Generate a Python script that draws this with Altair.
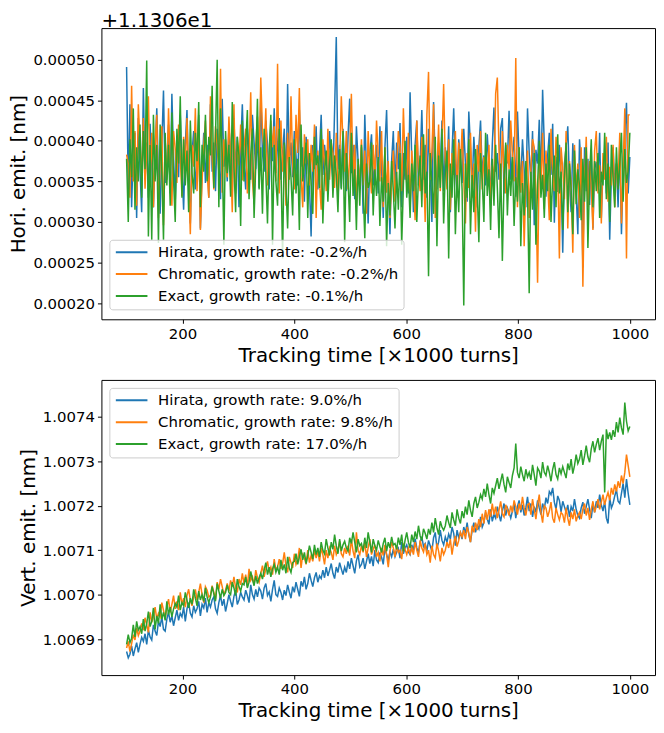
import altair as alt
import pandas as pd

# tracking time grid [x1000 turns]
times = list(range(100, 1001, 3))

colors = ["#1f77b4", "#ff7f0e", "#2ca02c"]
hori_labels = ["Hirata, growth rate: -0.2%/h",
               "Chromatic, growth rate: -0.2%/h",
               "Exact, growth rate: -0.1%/h"]
vert_labels = ["Hirata, growth rate: 9.0%/h",
               "Chromatic, growth rate: 9.8%/h",
               "Exact, growth rate: 17.0%/h"]

# horizontal emittance above 11.306 nm, in units of 1e-6 nm (one row = 30 kturns)
hori_hirata = [
    491, 340, 445, 318, 392, 410, 305, 428, 365, 312,
    465, 352, 398, 330, 421, 372, 318, 382, 440, 355,
    310, 395, 462, 348, 372, 420, 335, 458, 380, 325,
    402, 355, 432, 368, 315, 395, 438, 350, 298, 385,
    412, 340, 375, 432, 292, 365, 410, 348, 395, 330,
    445, 362, 398, 338, 415, 375, 328, 452, 368, 402,
    350, 418, 385, 335, 428, 362, 405, 318, 392, 445,
    372, 340, 415, 388, 352, 432, 398, 365, 410, 342,
    458, 385, 362, 425, 395, 340, 412, 375, 440, 360,
    395, 428, 352, 385, 415, 338, 470, 372, 398, 355,
    412, 382, 345, 438, 368, 392, 325, 405, 372, 348,
    282, 395, 365, 418, 340, 385, 432, 358, 395, 372,
    345, 412, 378, 352, 438, 528, 365, 395, 342, 415,
    372, 338, 405, 452, 360, 395, 328, 418, 375, 345,
    392, 310, 432, 362, 298, 385, 408, 345, 372, 395,
    335, 418, 365, 305, 392, 438, 350, 285, 375, 412,
    342, 398, 365, 422, 318, 385, 352, 405, 335, 460,
    378, 312, 395, 425, 345, 372, 438, 352, 395, 330,
    415, 365, 300, 448, 372, 340, 398, 362, 425, 338,
    392, 355, 418, 312, 385, 440, 365, 335, 402, 378,
    348, 415, 372, 325, 436, 392, 340, 405, 368, 318,
    392, 425, 358, 382, 345, 408, 372, 330, 395, 441,
    362, 385, 352, 415, 428, 335, 395, 372, 437, 352,
    381, 405, 331, 436, 378, 350, 402, 365, 318, 440,
    385, 350, 412, 296, 389, 372, 426, 345, 463, 395,
    331, 382, 410, 358, 421, 299, 380, 337, 395, 360,
    262, 372, 392, 418, 350, 312, 397, 365, 336, 285,
    402, 366, 244, 392, 338, 378, 321, 388, 292, 365,
    374, 349, 410, 305, 365, 382, 335, 398, 278, 360,
    392, 345, 372, 318, 398, 285, 365, 410, 447, 335,
    380,
]
hori_chromatic = [
    383, 372, 330, 468, 350, 412, 320, 445, 395, 355,
    428, 341, 390, 455, 352, 410, 318, 395, 432, 305,
    375, 418, 296, 388, 352, 440, 368, 320, 412, 390,
    348, 420, 380, 332, 405, 365, 428, 352, 285, 395,
    368, 440, 338, 412, 290, 350, 395, 425, 362, 330,
    455, 381, 340, 418, 395, 362, 489, 336, 402, 372,
    355, 430, 382, 312, 445, 335, 398, 370, 420, 351,
    392, 415, 335, 378, 460, 352, 322, 395, 430, 372,
    478, 412, 388, 440, 345, 368, 425, 392, 418, 350,
    495, 335, 425, 362, 395, 320, 410, 352, 455, 372,
    340, 432, 385, 465, 355, 318, 408, 372, 402, 345,
    395, 362, 420, 305, 388, 350, 315, 402, 372, 338,
    415, 352, 398, 385, 342, 410, 330, 372, 455, 395,
    362, 412, 340, 380, 458, 352, 395, 320, 370, 348,
    402, 345, 388, 310, 412, 362, 335, 395, 348, 425,
    382, 350, 412, 318, 392, 336, 375, 305, 348, 388,
    325, 365, 412, 392, 338, 440, 375, 348, 410, 316,
    388, 352, 302, 425, 362, 338, 405, 372, 300, 432,
    485, 352, 388, 445, 305, 362, 420, 338, 395, 470,
    372, 340, 402, 315, 385, 358, 412, 330, 398, 365,
    415, 352, 298, 385, 342, 410, 330, 372, 288, 395,
    362, 412, 340, 380, 372, 352, 395, 320, 370, 348,
    458, 478, 388, 340, 412, 362, 335, 395, 365, 425,
    382, 350, 502, 318, 392, 336, 375, 270, 348, 388,
    305, 365, 402, 392, 338, 225, 375, 348, 410, 316,
    388, 352, 302, 415, 362, 338, 405, 372, 255, 392,
    365, 328, 412, 292, 375, 348, 262, 395, 338, 372,
    305, 392, 220, 348, 405, 318, 375, 342, 290, 388,
    412, 335, 370, 298, 385, 352, 405, 325, 368, 345,
    395, 318, 372, 345, 410, 298, 365, 440, 255, 432,
    432,
]
hori_exact = [
    378, 300, 402, 355, 440, 315, 392, 350, 420, 330,
    412, 365, 499, 282, 395, 278, 432, 350, 395, 274,
    420, 362, 278, 410, 345, 395, 320, 435, 352, 300,
    415, 372, 455, 330, 402, 345, 388, 312, 425, 360,
    335, 410, 375, 448, 318, 395, 362, 432, 350, 405,
    382, 468, 342, 405, 500, 318, 440, 385, 272, 412,
    360, 395, 331, 448, 370, 312, 405, 382, 295, 425,
    350, 395, 438, 328, 382, 415, 305, 370, 452, 340,
    392, 310, 415, 360, 298, 388, 432, 272, 395, 350,
    320, 415, 372, 255, 398, 345, 292, 380, 355, 308,
    402, 335, 378, 290, 420, 350, 372, 398, 305, 385,
    348, 310, 405, 370, 382, 342, 415, 298, 362, 388,
    325, 372, 402, 330, 382, 358, 312, 390, 340, 412,
    275, 385, 352, 300, 410, 332, 365, 290, 378, 320,
    395, 342, 280, 372, 342, 350, 398, 308, 365, 332,
    380, 295, 355, 325, 392, 270, 348, 308, 375, 338,
    292, 362, 315, 385, 272, 345, 400, 330, 358, 305,
    372, 338, 395, 300, 355, 382, 318, 408, 335, 362,
    233, 385, 348, 310, 405, 270, 382, 342, 415, 298,
    362, 388, 255, 372, 330, 402, 285, 358, 312, 390,
    340, 197, 372, 330, 402, 285, 358, 312, 390, 340,
    275, 385, 352, 300, 410, 332, 365, 290, 378, 320,
    395, 342, 280, 372, 252, 350, 398, 308, 365, 332,
    380, 295, 355, 325, 392, 270, 348, 308, 375, 338,
    212, 362, 315, 385, 272, 345, 400, 330, 358, 305,
    372, 338, 395, 300, 355, 382, 318, 408, 335, 362,
    290, 352, 398, 312, 372, 340, 285, 388, 322, 365,
    345, 302, 378, 325, 392, 268, 355, 402, 318, 375,
    338, 385, 305, 362, 345, 410, 328, 372, 300, 395,
    355, 318, 392, 340, 372, 410, 325, 390, 348, 362,
    410,
]

# vertical emittance above 1.0068 nm, in units of 1e-6 nm (one row = 30 kturns)
vert_hirata = [
    72, 58, 66, 85, 62, 78, 92, 70, 88, 104,
    95, 112, 88, 120, 105, 98, 132, 118, 108, 140,
    128, 150, 122, 118, 145, 160, 138, 152, 130, 148,
    165, 142, 158, 150, 172, 140, 168, 182, 158, 150,
    175, 160, 168, 185, 152, 178, 170, 192, 160, 182,
    172, 188, 195, 168, 158, 182, 198, 175, 190, 162,
    180, 200, 185, 172, 196, 210, 178, 188, 205, 195,
    188, 210, 198, 182, 222, 200, 190, 212, 195, 215,
    208, 190, 215, 225, 198, 206, 185, 212, 232, 200,
    196, 215, 205, 188, 210, 198, 222, 206, 192, 218,
    205, 228, 212, 196, 230, 218, 240, 212, 225, 248,
    232, 218, 238, 250, 228, 242, 236, 255, 238, 262,
    242, 255, 270, 248, 236, 262, 250, 272, 258, 245,
    262, 250, 275, 258, 282, 265, 248, 276, 290, 262,
    268, 282, 258, 275, 292, 270, 286, 264, 300, 278,
    272, 295, 284, 268, 306, 290, 278, 296, 285, 302,
    285, 296, 304, 282, 318, 292, 305, 312, 296, 290,
    312, 300, 326, 305, 295, 318, 330, 308, 315, 298,
    322, 310, 298, 328, 340, 305, 318, 345, 322, 312,
    330, 318, 336, 325, 352, 338, 310, 345, 328, 340,
    325, 352, 338, 362, 335, 318, 345, 362, 340, 356,
    348, 375, 352, 362, 385, 370, 358, 392, 365, 380,
    372, 398, 380, 365, 388, 405, 378, 395, 385, 372,
    388, 405, 372, 398, 412, 385, 402, 378, 395, 420,
    388, 405, 375, 398, 385, 412, 395, 380, 405, 392,
    418, 405, 432, 425, 440, 408, 392, 422, 412, 386,
    410, 398, 385, 402, 375, 398, 388, 415, 392, 378,
    372, 395, 408, 382, 398, 415, 392, 372, 405, 385,
    410, 395, 425, 402, 388, 410, 372, 360, 418, 395,
    405, 422, 436, 410, 405, 428, 450, 418, 460, 428,
    402,
]
vert_chromatic = [
    80, 95, 72, 90, 110, 98, 125, 108, 118, 135,
    120, 148, 132, 115, 160, 138, 150, 172, 145, 158,
    150, 182, 165, 145, 172, 190, 160, 178, 198, 168,
    185, 165, 205, 178, 192, 172, 198, 212, 188, 175,
    195, 212, 188, 205, 225, 200, 182, 218, 210, 195,
    198, 220, 205, 190, 228, 212, 235, 218, 200, 210,
    225, 208, 232, 218, 240, 215, 205, 235, 222, 248,
    225, 245, 218, 258, 232, 240, 222, 255, 238, 228,
    248, 265, 240, 258, 275, 252, 262, 245, 280, 255,
    262, 280, 258, 270, 295, 265, 250, 285, 272, 260,
    292, 268, 278, 305, 260, 290, 282, 268, 300, 272,
    288, 275, 300, 282, 298, 275, 305, 290, 268, 300,
    282, 305, 295, 278, 310, 290, 300, 320, 292, 285,
    305, 292, 310, 288, 325, 298, 282, 340, 300, 290,
    310, 295, 318, 285, 305, 325, 290, 302, 312, 285,
    295, 275, 305, 288, 312, 290, 262, 298, 318, 305,
    285, 310, 295, 300, 280, 315, 302, 290, 305, 292,
    305, 290, 318, 300, 285, 322, 305, 296, 315, 290,
    300, 272, 310, 290, 282, 315, 298, 275, 305, 290,
    300, 318, 305, 325, 290, 315, 332, 308, 322, 340,
    330, 345, 325, 352, 338, 318, 355, 340, 362, 345,
    370, 352, 382, 360, 390, 368, 392, 375, 405, 380,
    398, 372, 390, 410, 382, 375, 402, 392, 378, 400,
    385, 412, 398, 380, 405, 390, 420, 395, 378, 402,
    405, 380, 415, 392, 370, 402, 425, 385, 362, 400,
    395, 375, 388, 408, 372, 362, 395, 380, 368, 385,
    380, 362, 395, 372, 355, 385, 370, 392, 365, 378,
    385, 370, 392, 405, 378, 395, 368, 392, 410, 385,
    398, 415, 392, 408, 425, 402, 418, 430, 412, 440,
    425, 448, 432, 455, 440, 468, 450, 475, 515, 490,
    465,
]
vert_exact = [
    88, 110, 92, 102, 132, 105, 140, 120, 128, 112,
    145, 118, 135, 162, 128, 140, 170, 122, 152, 135,
    178, 145, 160, 142, 185, 155, 172, 150, 168, 180,
    172, 198, 165, 182, 175, 205, 188, 170, 192, 178,
    212, 192, 175, 208, 188, 200, 185, 215, 195, 182,
    195, 218, 202, 185, 225, 208, 192, 212, 198, 205,
    222, 205, 200, 228, 215, 198, 235, 218, 208, 225,
    222, 240, 215, 228, 252, 235, 220, 242, 225, 238,
    248, 235, 255, 272, 245, 262, 240, 258, 268, 250,
    262, 245, 278, 255, 268, 248, 285, 260, 250, 272,
    275, 292, 268, 285, 302, 278, 295, 270, 288, 310,
    295, 280, 312, 290, 305, 285, 318, 300, 292, 325,
    305, 288, 318, 302, 335, 310, 292, 325, 298, 312,
    320, 305, 298, 328, 315, 340, 318, 295, 325, 310,
    315, 298, 328, 305, 340, 318, 295, 325, 310, 300,
    322, 308, 295, 315, 328, 298, 318, 305, 330, 312,
    315, 302, 328, 312, 335, 298, 322, 340, 318, 305,
    335, 318, 342, 325, 355, 332, 322, 348, 338, 325,
    348, 335, 362, 340, 372, 350, 335, 365, 352, 345,
    355, 378, 362, 350, 385, 368, 355, 392, 372, 360,
    388, 372, 398, 380, 412, 390, 375, 405, 420, 395,
    408, 425, 415, 438, 420, 450, 425, 405, 440, 428,
    445, 462, 438, 455, 472, 448, 430, 465, 452, 440,
    468, 485, 540, 475, 462, 488, 470, 455, 482, 465,
    475, 458, 492, 470, 445, 485, 478, 462, 498, 475,
    468, 490, 475, 455, 482, 498, 470, 460, 485, 472,
    488, 475, 462, 495, 480, 505, 472, 490, 515, 495,
    505, 525, 492, 512, 535, 510, 498, 528, 545, 520,
    538, 552, 525, 545, 560, 430, 572, 550, 565, 548,
    570, 555, 588, 565, 598, 575, 560, 632, 590, 568,
    578,
]

FONT = "DejaVu Sans"
X_TITLE = "Tracking time [×1000 turns]"


def series_df(vals, label, scale, base):
    n = min(len(vals), len(times))
    return pd.DataFrame({"t": times[:n],
                         "v": [base + v * scale for v in vals[:n]],
                         "s": label})


def panel(series, labels, scale, base, ydomain, yticks, yfmt, ytitle,
          legend_y, height, title=None):
    legend = alt.Legend(title=None, orient="none", legendX=8, legendY=legend_y,
                        symbolType="M-1,0H4.3", symbolSize=144,
                        symbolStrokeWidth=2, labelFontSize=15, labelFont=FONT,
                        labelColor="black", labelOffset=29, rowPadding=6,
                        padding=5, fillColor="rgba(255,255,255,0.8)",
                        strokeColor="#cccccc", cornerRadius=3, labelLimit=500)
    layers = []
    for vals, lab in zip(series, labels):
        layers.append(
            alt.Chart(series_df(vals, lab, scale, base))
            .mark_line(strokeWidth=1.5)
            .encode(
                x=alt.X("t:Q",
                        scale=alt.Scale(domain=[55, 1045], nice=False, zero=False),
                        axis=alt.Axis(values=[200, 400, 600, 800, 1000],
                                      format="d", title=X_TITLE)),
                y=alt.Y("v:Q",
                        scale=alt.Scale(domain=ydomain, nice=False, zero=False),
                        axis=alt.Axis(values=yticks, format=yfmt, title=ytitle)),
                color=alt.Color("s:N",
                                scale=alt.Scale(domain=labels, range=colors),
                                legend=legend),
            )
        )
    ch = alt.layer(*layers).properties(width=557, height=height)
    if title is not None:
        ch = ch.properties(title=title)
    return ch


top = panel([hori_hirata, hori_chromatic, hori_exact], hori_labels, 1e-6, 0.0,
            [0.00018, 0.000539],
            [0.0002, 0.00025, 0.0003, 0.00035, 0.0004, 0.00045, 0.0005],
            ".5f", "Hori. emit. [nm]", 213, 293,
            title=alt.TitleParams("+1.1306e1", anchor="start", frame="group",
                                  fontSize=20, font=FONT, fontWeight="normal",
                                  color="black", offset=-3))

bottom = panel([vert_hirata, vert_chromatic, vert_exact], vert_labels, 1e-6, 1.0068,
               [1.006819, 1.007483],
               [1.0069, 1.007, 1.0071, 1.0072, 1.0073, 1.0074],
               ".4f", "Vert. emit. [nm]", 8, 297)

chart = (
    alt.vconcat(top, bottom, spacing=13)
    .resolve_scale(color="independent", y="independent")
    .resolve_legend(color="independent")
    .properties(padding={"left": 0, "top": 0, "right": 0, "bottom": 0})
    .configure_axis(labelFont=FONT, titleFont=FONT, labelFontSize=15,
                    titleFontSize=20, titleFontWeight="normal",
                    labelColor="black", titleColor="black", tickColor="black",
                    tickSize=4, tickWidth=1, labelPadding=3, titlePadding=4,
                    grid=False, domain=False)
    .configure_view(stroke="black", strokeWidth=1)
)

chart.save("out.html", embed_options={"renderer": "svg", "actions": False})
